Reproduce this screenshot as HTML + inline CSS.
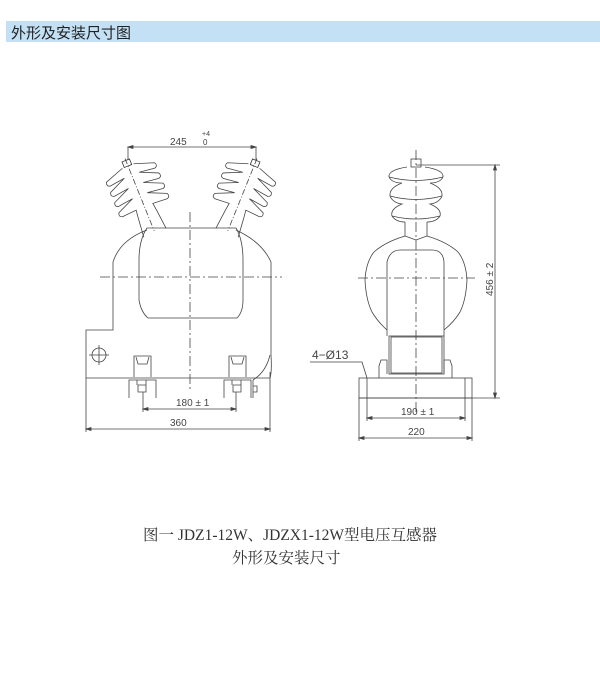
<!DOCTYPE html>
<html><head><meta charset="utf-8"><style>
body{margin:0;width:600px;height:685px;background:#fff;overflow:hidden;position:relative;font-family:"Liberation Serif","Noto Serif CJK SC",serif}
.bar{position:absolute;left:6px;top:21px;width:594px;height:21px;background:#c3e0f4;}
.bar span{position:absolute;left:5px;top:1px;font:15px "Liberation Sans","Noto Sans CJK SC",sans-serif;color:#222}
.cap{position:absolute;font-size:15.5px;color:#333;white-space:nowrap}
svg{position:absolute;left:0;top:0}
</style></head><body>
<div class="bar"><span>外形及安装尺寸图</span></div>
<svg width="600" height="685" viewBox="0 0 600 685" fill="none" stroke="#444" stroke-width="0.8" font-family="Liberation Sans, sans-serif">
<defs>
<g id="ins">
 <path d="M-6,0 L-26,7 Q-28,11 -24,12 L-8,10 L-26,18 Q-28,22 -24,23 L-8,21 L-26,29 Q-28,33 -24,34 L-8,32 L-26,40 Q-28,44 -24,45 L-9,44 L-10,52 M6,0 L26,7 Q28,11 24,12 L8,10 L26,18 Q28,22 24,23 L8,21 L26,29 Q28,33 24,34 L8,32 L26,40 Q28,44 24,45 L9,44 L10,52"/>
 <path d="M-10,52 L-12,72 M10,52 L12,72"/>
 <rect x="-4" y="-6" width="8" height="6" stroke="#333"/>
 <path d="M0,-8 V70" stroke-dasharray="6 2 1 2"/>
</g>
</defs>
<!-- LEFT VIEW -->
<path d="M128,147 H256" /><path d="M128,147 l5,-1.5 v3z M256,147 l-5,-1.5 v3z" fill="#444"/>
<path d="M128,147 V160 M256,147 V160"/>
<text x="170" y="145" font-size="10" fill="#444" stroke="none">245</text>
<text x="202" y="136" font-size="7" fill="#444" stroke="none">+4</text>
<text x="203" y="145" font-size="8" fill="#444" stroke="none">0</text>
<use href="#ins" transform="translate(128,166) rotate(-22)"/>
<use href="#ins" transform="translate(254,166) rotate(22)"/>
<!-- body cylinder -->
<path d="M147,228 Q139,240 139,260 V300 Q141,312 148,318 H237 Q243,312 243,300 V260 Q243,240 236,228 H147Z"/>
<!-- outer -->
<path d="M147,230 Q120,240 113,262 V330 H86 V378 H270 Q272,372 271,355 V262 Q262,242 236,230"/>
<path d="M270,355 Q266,372 253,380"/>
<path d="M100,277 H282" stroke-dasharray="10 3 2 3"/>
<path d="M190,212 V392" stroke-dasharray="10 3 2 3"/>
<circle cx="99" cy="355" r="7"/><path d="M89,355 H109 M99,345 V365"/>
<!-- feet -->
<path d="M134,377 V356 H151 V377 M136,357 L138,364 H147 L149,357"/>
<path d="M229,377 V356 H246 V377 M231,357 L233,364 H242 L244,357"/>
<path d="M129,398 V380 H156 V398 M146,380 V385 M137,380 V385 M138,385 H146 V392 H138Z"/>
<path d="M224,398 V380 H251 V398 M241,380 V385 M232,380 V385 M233,385 H241 V392 H233Z"/>
<path d="M253,380 V398 M253,386 h4 v6 h-4"/>
<path d="M143,392 V412 M236,392 V412 M86,378 V432 M270,372 V432"/>
<path d="M143,409 H236"/><path d="M143,409 l5,-1.5 v3z M236,409 l-5,-1.5 v3z" fill="#444"/>
<text x="176" y="406" font-size="10" fill="#444" stroke="none">180 ± 1</text>
<path d="M86,429 H270"/><path d="M86,429 l5,-1.5 v3z M270,429 l-5,-1.5 v3z" fill="#444"/>
<text x="170" y="426" font-size="10" fill="#444" stroke="none">360</text>
<!-- RIGHT VIEW -->
<path d="M416,150 V412" stroke-dasharray="10 3 2 3"/>
<path d="M358,278 H475" stroke-dasharray="10 3 2 3"/>
<rect x="411" y="159" width="10" height="8"/>
<path d="M416,165 H500"/>
<path d="M407,167 Q388,170 389,177 Q392,183 402,183 Q389,188 390,196 Q393,203 402,204 Q390,209 392,216 Q396,222 405,222 M425,167 Q444,170 443,177 Q440,183 430,183 Q443,188 442,196 Q439,203 430,204 Q442,209 440,216 Q436,222 427,222"/>
<path d="M389,177 Q416,184 443,177 M390,196 Q416,203 442,196 M392,216 Q416,222 440,216"/>
<path d="M405,222 V236 Q385,242 374,252 Q366,262 365,280 Q366,300 372,312 Q378,322 387,330 M427,222 V236 Q447,242 458,252 Q466,262 467,280 Q466,300 460,312 Q454,322 444,330"/>
<path d="M405,236 L416,240 L427,236"/>
<path d="M387,336 V262 Q390,250 400,250 H432 Q443,250 444,262 V336"/>
<rect x="389" y="336" width="55" height="38"/>
<rect x="391" y="337" width="51" height="36"/>
<path d="M387,374 V360 L381,360 L379,366 V378 M444,374 V360 L450,360 L452,366 V378"/>
<rect x="359" y="378" width="113" height="20"/>
<path d="M359,398 H500"/>
<path d="M495,165 V398"/><path d="M495,165 l-1.5,5 h3z M495,398 l-1.5,-5 h3z" fill="#444"/>
<text transform="translate(493,296) rotate(-90)" font-size="10" fill="#444" stroke="none">456 ± 2</text>
<path d="M367,378 V421 M465,378 V421 M359,398 V441 M472,398 V441"/>
<path d="M367,418 H465"/><path d="M367,418 l5,-1.5 v3z M465,418 l-5,-1.5 v3z" fill="#444"/>
<text x="401" y="415" font-size="10" fill="#444" stroke="none">190 ± 1</text>
<path d="M359,438 H472"/><path d="M359,438 l5,-1.5 v3z M472,438 l-5,-1.5 v3z" fill="#444"/>
<text x="408" y="435" font-size="10" fill="#444" stroke="none">220</text>
<text x="312" y="359" font-size="12" fill="#444" stroke="none">4−Ø13</text>
<path d="M310,362 H362 L367,378"/>
</svg>
<div class="cap" style="left:143px;top:523px">图一 JDZ1-12W、JDZX1-12W型电压互感器</div>
<div class="cap" style="left:232px;top:546px">外形及安装尺寸</div>
</body></html>
